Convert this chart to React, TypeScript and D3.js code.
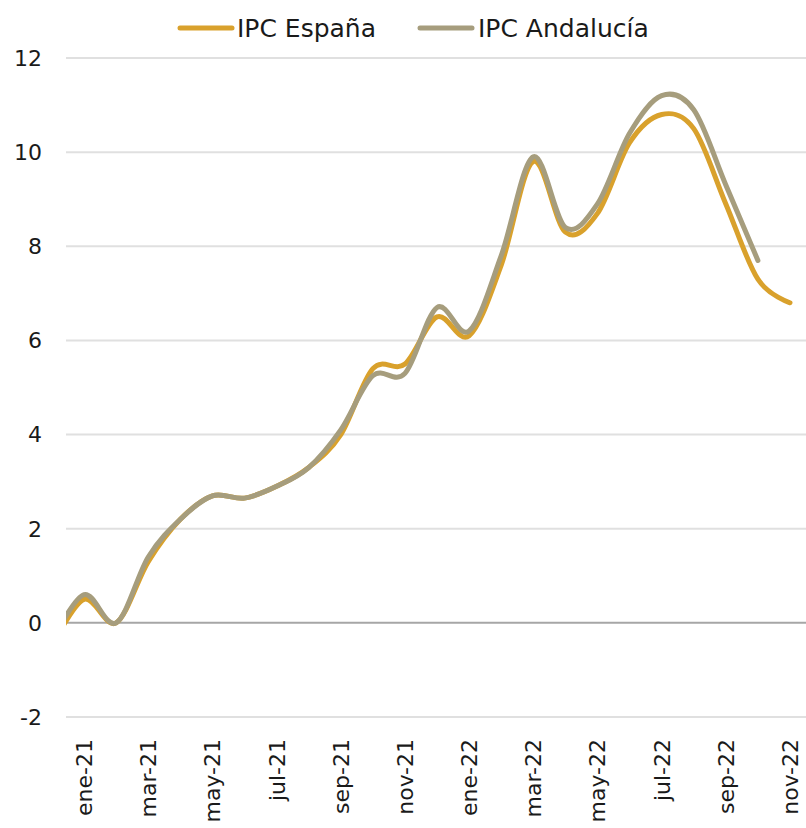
import React from "react";
import * as d3 from "d3";

// Monthly year-on-year CPI rate (%), Dec 2020 – Nov 2022
const months = [
  "dic-20", "ene-21", "feb-21", "mar-21", "abr-21", "may-21", "jun-21", "jul-21",
  "ago-21", "sep-21", "oct-21", "nov-21", "dic-21", "ene-22", "feb-22", "mar-22",
  "abr-22", "may-22", "jun-22", "jul-22", "ago-22", "sep-22", "oct-22", "nov-22",
];
const ipcEspana = [
  -0.5, 0.5, 0.0, 1.3, 2.2, 2.7, 2.65, 2.9, 3.3, 4.0, 5.4, 5.5,
  6.5, 6.1, 7.6, 9.8, 8.3, 8.7, 10.2, 10.8, 10.5, 8.9, 7.3, 6.8,
];
const ipcAndalucia = [
  -0.4, 0.6, 0.0, 1.4, 2.2, 2.7, 2.65, 2.9, 3.3, 4.1, 5.25, 5.3,
  6.7, 6.2, 7.8, 9.9, 8.4, 8.9, 10.4, 11.2, 10.9, 9.3, 7.7,
];
const yTicks = [-2, 0, 2, 4, 6, 8, 10, 12];
const seriesNames = ["IPC España", "IPC Andalucía"];
const seriesColors = ["#D9A12C", "#A69D7D"];

const W = 806;
const H = 828;
const plotLeft = 66;
const plotRight = 806;
const font = "'DejaVu Sans', sans-serif";

export default function App() {
  const x = d3.scalePoint<string>().domain(months).range([52, 790]);
  const y = d3.scaleLinear().domain([-2, 12]).range([717, 58]);

  const line = d3
    .line<number>()
    .x((_, i) => x(months[i]) as number)
    .y((d) => y(d))
    .curve(d3.curveCatmullRom.alpha(0));

  const series = [ipcEspana, ipcAndalucia];
  const labelMonths = months.filter((_, i) => i % 2 === 1);

  return (
    <svg width={W} height={H} style={{ display: "block", position: "absolute", left: 0, top: 0 }}>
      <defs>
        <clipPath id="plot-clip">
          <rect x={plotLeft} y={0} width={plotRight - plotLeft} height={H} />
        </clipPath>
      </defs>
      <rect width={W} height={H} fill="#fff" />

      {/* horizontal gridlines and y labels */}
      {yTicks.map((t) => (
        <g key={t}>
          <line
            x1={plotLeft}
            x2={plotRight}
            y1={y(t)}
            y2={y(t)}
            stroke={t === 0 ? "#a6a6a6" : "#e0e0e0"}
            strokeWidth={2}
          />
          <text
            x={42}
            y={y(t)}
            dy="0.36em"
            textAnchor="end"
            fontFamily={font}
            fontSize={22}
            fill="#1a1a1a"
          >
            {t}
          </text>
        </g>
      ))}

      {/* category labels, rotated */}
      {labelMonths.map((m) => (
        <text
          key={m}
          transform={`translate(${(x(m) as number) + 8},739) rotate(-90)`}
          textAnchor="end"
          fontFamily={font}
          fontSize={22}
          fill="#1a1a1a"
        >
          {m}
        </text>
      ))}

      {/* series lines */}
      <g clipPath="url(#plot-clip)">
        {series.map((s, k) => (
          <path
            key={k}
            d={line(s) ?? ""}
            fill="none"
            stroke={seriesColors[k]}
            strokeWidth={5}
            strokeLinecap="round"
            strokeLinejoin="round"
          />
        ))}
      </g>

      {/* legend */}
      {[
        { lx: 180, tx: 237 },
        { lx: 420, tx: 478 },
      ].map((p, k) => (
        <g key={k}>
          <line
            x1={p.lx}
            x2={p.lx + 52}
            y1={28}
            y2={28}
            stroke={seriesColors[k]}
            strokeWidth={5}
            strokeLinecap="round"
          />
          <text
            x={p.tx}
            y={28}
            dy="0.36em"
            fontFamily={font}
            fontSize={25}
            fill="#1a1a1a"
          >
            {seriesNames[k]}
          </text>
        </g>
      ))}
    </svg>
  );
}
